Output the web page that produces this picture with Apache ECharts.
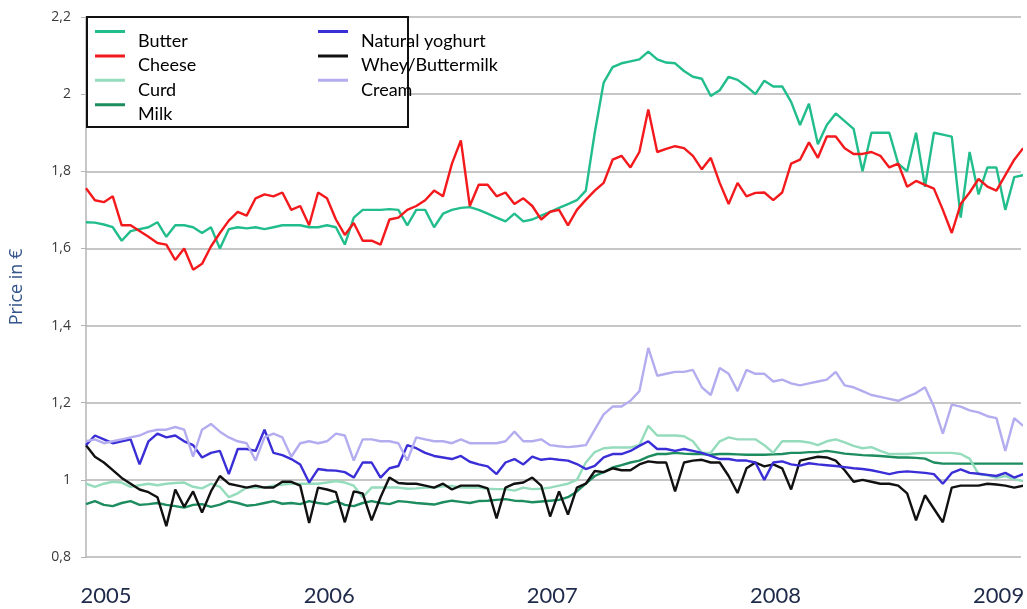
<!DOCTYPE html>
<html>
<head>
<meta charset="utf-8">
<script src="https://cdn.jsdelivr.net/npm/echarts@6/dist/echarts.min.js"></script>
<style>html,body{margin:0;padding:0;background:#fff}#c{width:1027px;height:609px}</style>
</head>
<body>
<div id="c"></div>
<script>
// sampling grid: every 0.04 year starting at 2004.91 (about two weeks apart)
const startYear = 2004.91;
const stepYear = 0.04;
const yearTicks = [2005, 2006, 2007, 2008, 2009];

const butter = [1.668,1.667,1.662,1.655,1.62,1.645,1.65,1.655,1.668,1.63,
1.66,1.66,1.655,1.64,1.655,1.60,1.65,1.655,1.652,1.655,
1.65,1.655,1.66,1.66,1.66,1.655,1.655,1.66,1.655,1.61,
1.68,1.70,1.70,1.70,1.702,1.70,1.66,1.70,1.70,1.655,
1.69,1.70,1.705,1.707,1.70,1.69,1.68,1.67,1.69,1.67,
1.675,1.685,1.695,1.705,1.715,1.725,1.75,1.90,2.03,2.07,
2.08,2.085,2.09,2.11,2.09,2.082,2.08,2.06,2.045,2.04,
1.995,2.01,2.045,2.037,2.02,2.0,2.035,2.02,2.02,1.98,
1.92,1.975,1.87,1.92,1.95,1.93,1.91,1.80,1.90,1.90,
1.90,1.82,1.80,1.90,1.76,1.90,1.895,1.89,1.68,1.85,
1.74,1.81,1.81,1.70,1.785,1.79];

const cheese = [1.756,1.725,1.72,1.735,1.66,1.66,1.645,1.63,1.614,1.61,
1.57,1.60,1.545,1.56,1.605,1.64,1.672,1.695,1.685,1.73,
1.74,1.735,1.745,1.70,1.71,1.66,1.745,1.73,1.675,1.635,
1.666,1.62,1.62,1.61,1.675,1.68,1.70,1.71,1.725,1.75,
1.735,1.82,1.88,1.71,1.765,1.765,1.735,1.745,1.715,1.73,
1.71,1.675,1.695,1.70,1.66,1.70,1.726,1.75,1.77,1.83,
1.84,1.81,1.85,1.96,1.85,1.858,1.865,1.86,1.84,1.805,
1.835,1.77,1.715,1.77,1.735,1.744,1.745,1.725,1.745,1.82,
1.83,1.875,1.835,1.89,1.89,1.86,1.845,1.845,1.85,1.84,
1.81,1.82,1.76,1.775,1.765,1.755,1.70,1.64,1.715,1.745,
1.78,1.76,1.75,1.79,1.83,1.86];

const curd = [0.99,0.982,0.99,0.995,0.993,0.982,0.986,0.99,0.986,0.99,
0.992,0.993,0.982,0.978,0.99,0.982,0.955,0.965,0.98,0.98,
0.98,0.985,0.988,0.99,0.99,0.99,0.99,0.993,0.997,0.993,
0.985,0.955,0.98,0.98,0.98,0.98,0.977,0.978,0.98,0.98,
0.983,0.984,0.98,0.98,0.98,0.977,0.976,0.976,0.972,0.98,
0.976,0.977,0.98,0.985,0.99,1.0,1.045,1.072,1.082,1.084,
1.084,1.084,1.09,1.14,1.115,1.115,1.115,1.113,1.10,1.07,
1.07,1.10,1.11,1.105,1.105,1.105,1.09,1.07,1.10,1.10,
1.10,1.097,1.09,1.10,1.105,1.097,1.088,1.082,1.085,1.075,
1.067,1.067,1.067,1.069,1.07,1.07,1.07,1.07,1.067,1.055,
1.015,1.012,1.005,1.01,1.002,0.997];

const milk = [0.937,0.945,0.935,0.932,0.94,0.945,0.935,0.937,0.94,0.935,
0.932,0.928,0.935,0.937,0.93,0.936,0.945,0.94,0.933,0.935,
0.94,0.945,0.938,0.94,0.937,0.945,0.94,0.937,0.945,0.935,
0.932,0.94,0.945,0.94,0.937,0.945,0.943,0.94,0.938,0.936,
0.942,0.946,0.943,0.94,0.945,0.946,0.948,0.95,0.946,0.945,
0.942,0.944,0.946,0.948,0.955,0.97,0.99,1.01,1.02,1.032,
1.038,1.045,1.05,1.06,1.067,1.067,1.07,1.068,1.067,1.067,
1.065,1.067,1.067,1.066,1.065,1.065,1.065,1.066,1.067,1.07,
1.07,1.072,1.072,1.075,1.072,1.068,1.066,1.064,1.063,1.062,
1.06,1.058,1.058,1.057,1.055,1.045,1.042,1.042,1.042,1.042,
1.042,1.042,1.042,1.042,1.042,1.042];

const yoghurt = [1.09,1.115,1.105,1.095,1.10,1.105,1.04,1.10,1.12,1.11,
1.115,1.10,1.09,1.058,1.07,1.075,1.015,1.08,1.08,1.075,
1.13,1.07,1.064,1.054,1.04,0.993,1.028,1.025,1.024,1.02,
1.006,1.045,1.045,1.006,1.03,1.036,1.09,1.082,1.07,1.062,
1.058,1.054,1.062,1.047,1.04,1.035,1.015,1.045,1.054,1.04,
1.06,1.052,1.055,1.052,1.05,1.041,1.028,1.036,1.058,1.067,
1.067,1.075,1.088,1.10,1.08,1.08,1.075,1.08,1.075,1.07,
1.062,1.054,1.054,1.05,1.05,1.045,1.0,1.045,1.048,1.04,
1.037,1.043,1.04,1.038,1.036,1.033,1.03,1.028,1.025,1.02,
1.015,1.02,1.022,1.02,1.018,1.015,0.99,1.018,1.027,1.018,
1.016,1.013,1.01,1.018,1.006,1.015];

const whey = [1.09,1.06,1.045,1.025,1.005,0.99,0.975,0.968,0.955,0.88,
0.975,0.93,0.97,0.915,0.97,1.01,0.99,0.985,0.98,0.985,
0.98,0.98,0.995,0.995,0.985,0.888,0.98,0.975,0.968,0.89,
0.97,0.965,0.895,0.955,1.006,0.992,0.99,0.99,0.985,0.98,
0.99,0.975,0.985,0.985,0.985,0.978,0.90,0.98,0.99,0.993,
1.006,0.985,0.905,0.97,0.91,0.98,0.99,1.023,1.02,1.03,
1.025,1.025,1.04,1.048,1.045,1.045,0.97,1.045,1.05,1.052,
1.045,1.045,1.01,0.966,1.03,1.045,1.035,1.04,1.03,0.975,
1.05,1.055,1.06,1.058,1.05,1.025,0.995,1.0,0.995,0.99,
0.99,0.985,0.965,0.895,0.96,0.925,0.89,0.98,0.985,0.985,
0.985,0.99,0.988,0.985,0.98,0.985];

const cream = [1.10,1.105,1.095,1.10,1.105,1.11,1.115,1.125,1.13,1.13,
1.137,1.13,1.06,1.13,1.145,1.125,1.11,1.10,1.095,1.05,
1.11,1.12,1.11,1.06,1.095,1.10,1.095,1.10,1.12,1.115,
1.05,1.105,1.105,1.10,1.10,1.095,1.05,1.11,1.105,1.10,
1.10,1.095,1.105,1.095,1.095,1.095,1.095,1.10,1.125,1.10,
1.10,1.105,1.09,1.087,1.085,1.087,1.09,1.13,1.17,1.19,
1.19,1.205,1.23,1.342,1.27,1.275,1.28,1.28,1.285,1.24,
1.22,1.29,1.275,1.23,1.285,1.275,1.275,1.255,1.26,1.25,
1.245,1.25,1.255,1.26,1.28,1.245,1.24,1.23,1.22,1.215,
1.21,1.205,1.215,1.225,1.24,1.19,1.12,1.195,1.19,1.18,
1.175,1.165,1.16,1.075,1.16,1.14];

const seriesDefs = [
  {name: 'Milk', data: milk, color: '#1d8c5e'},
  {name: 'Curd', data: curd, color: '#94dcbb'},
  {name: 'Whey/Buttermilk', data: whey, color: '#111111'},
  {name: 'Natural yoghurt', data: yoghurt, color: '#3a2ed6'},
  {name: 'Cream', data: cream, color: '#b3adf0'},
  {name: 'Butter', data: butter, color: '#22bd8c'},
  {name: 'Cheese', data: cheese, color: '#f3191c'}
];

const timeOf = i => +(startYear + i * stepYear).toFixed(3);

const legendIcon = 'path://M0,0L30,0L30,3L0,3Z M38,22L38.01,22L38.01,22.01L38,22.01Z';
const legendText = {color: '#000', fontSize: 18, fontFamily: 'Lato, "Open Sans", sans-serif'};

const chart = echarts.init(document.getElementById('c'), null, {renderer: 'canvas'});
chart.setOption({
  animation: false,
  backgroundColor: '#fff',
  grid: {left: 80, right: 0, top: 17, bottom: 52, containLabel: false},
  xAxis: {
    type: 'value', min: 2004.91, max: 2009.1,
    axisLine: {show: false}, axisTick: {show: false}, splitLine: {show: false},
    axisLabel: {
      customValues: yearTicks, showMinLabel: true, showMaxLabel: true,
      formatter: v => String(Math.round(v)),
      color: '#1e2a4a', fontSize: 22, margin: 28,
      fontFamily: 'Lato, "Open Sans", sans-serif'
    }
  },
  yAxis: {
    type: 'value', min: 0.8, max: 2.2, interval: 0.2,
    name: 'Price in €', nameLocation: 'middle', nameGap: 60, nameRotate: 90,
    nameTextStyle: {color: '#34558c', fontSize: 18, fontFamily: '"Open Sans", sans-serif'},
    axisLine: {show: true, lineStyle: {color: '#b5b5b5', width: 1.5}},
    axisTick: {show: true, length: 5, lineStyle: {color: '#b5b5b5'}},
    splitLine: {show: true, lineStyle: {color: '#c6c6c6', width: 2}},
    axisLabel: {
      formatter: v => String(+v.toFixed(1)).replace('.', ','),
      color: '#3a3a3a', fontSize: 14, margin: 15,
      fontFamily: '"Open Sans", sans-serif'
    }
  },
  graphic: [{
    type: 'rect', z: 10,
    shape: {x: 87, y: 17, width: 321, height: 110},
    style: {fill: '#fff', stroke: '#111', lineWidth: 2}
  }],
  legend: [
    {data: ['Butter', 'Cheese', 'Curd', 'Milk'], orient: 'vertical', left: 95, top: 30,
     padding: 0, itemWidth: 38, itemHeight: 22, itemGap: 2.4, icon: legendIcon,
     symbolKeepAspect: false, itemStyle: {borderWidth: 0}, textStyle: legendText, z: 20, selectedMode: false},
    {data: ['Natural yoghurt', 'Whey/Buttermilk', 'Cream'], orient: 'vertical', left: 318, top: 30,
     padding: 0, itemWidth: 38, itemHeight: 22, itemGap: 2.4, icon: legendIcon,
     symbolKeepAspect: false, itemStyle: {borderWidth: 0}, textStyle: legendText, z: 20, selectedMode: false}
  ],
  series: seriesDefs.map(s => ({
    name: s.name, type: 'line', symbol: 'none', showSymbol: false,
    color: s.color,
    lineStyle: {color: s.color, width: 2.4},
    emphasis: {disabled: true},
    data: s.data.map((v, i) => [timeOf(i), v])
  }))
});
</script>
</body>
</html>
